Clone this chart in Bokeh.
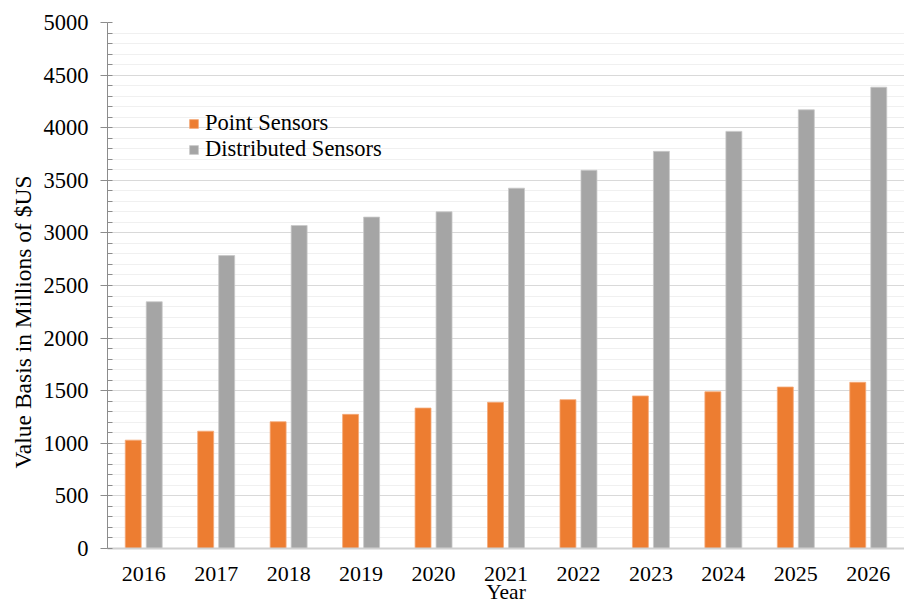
from bokeh.plotting import figure
from bokeh.models import ColumnDataSource, FactorRange, Range1d, SingleIntervalTicker, Legend, LegendItem, Title
from bokeh.transform import dodge
from bokeh.embed import file_html
from bokeh.resources import INLINE

years = ["2016", "2017", "2018", "2019", "2020", "2021", "2022", "2023", "2024", "2025", "2026"]
point_sensors = [1030, 1115, 1205, 1275, 1335, 1390, 1415, 1450, 1490, 1535, 1580]
distributed_sensors = [2345, 2785, 3070, 3150, 3200, 3425, 3595, 3775, 3965, 4170, 4385]

src = ColumnDataSource(data=dict(year=years, point=point_sensors, dist=distributed_sensors))

FONT = "'Liberation Serif', 'Times New Roman', serif"

p = figure(width=904, height=606, output_backend="svg", toolbar_location=None,
           x_range=FactorRange(*years, range_padding=0), y_range=Range1d(0, 5000),
           min_border_left=107, min_border_right=0, min_border_top=22, min_border_bottom=58)
p.outline_line_color = None

r1 = p.vbar(x=dodge("year", -0.145, range=p.x_range), top="point", width=0.22, source=src,
            fill_color="#ED7D31", line_color="#F4A97A", line_width=0.8)
r2 = p.vbar(x=dodge("year", 0.145, range=p.x_range), top="dist", width=0.22, source=src,
            fill_color="#A5A5A5", line_color="#C8C8C8", line_width=0.8)

# grid
p.xgrid.grid_line_color = None
p.ygrid.grid_line_color = "#D9D9D9"
p.ygrid.minor_grid_line_color = "#F0F0F0"
p.yaxis.ticker = SingleIntervalTicker(interval=500, num_minor_ticks=5)

# y axis
p.yaxis.axis_line_color = "#8C8C8C"
p.yaxis.major_tick_line_color = "#8C8C8C"
p.yaxis.minor_tick_line_color = "#8C8C8C"
p.yaxis.major_tick_out = 7
p.yaxis.major_tick_in = 0
p.yaxis.minor_tick_in = 5
p.yaxis.minor_tick_out = 0
p.yaxis.major_label_standoff = 12
p.yaxis.major_label_text_font = FONT
p.yaxis.major_label_text_font_size = "22.5px"
p.yaxis.major_label_text_color = "black"

# x axis
p.xaxis.axis_line_color = "#D0D0D0"
p.xaxis.axis_line_width = 2
p.xaxis.major_tick_line_color = None
p.xaxis.minor_tick_line_color = None
p.xaxis.major_label_standoff = 12
p.xaxis.major_label_text_font = FONT
p.xaxis.major_label_text_font_size = "22px"
p.xaxis.major_label_text_color = "black"
p.xaxis.axis_label = "Year"
p.xaxis.axis_label_standoff = -4
p.xaxis.axis_label_text_font = FONT
p.xaxis.axis_label_text_font_size = "21.5px"
p.xaxis.axis_label_text_font_style = "normal"
p.xaxis.axis_label_text_color = "black"

# y axis title as a left-side title so it can be offset along the axis
ylab = Title(text="Value Basis in Millions of $US", align="left", offset=80,
             text_font=FONT, text_font_size="23.5px", text_font_style="normal", text_color="black")
p.add_layout(ylab, "left")

legend = Legend(items=[LegendItem(label="Point Sensors", renderers=[r1]),
                       LegendItem(label="Distributed Sensors", renderers=[r2])],
                location=(81, 386), glyph_width=11, glyph_height=11, label_height=25,
                label_standoff=6, spacing=0, padding=0, margin=0,
                label_text_font=FONT, label_text_font_size="22.5px", label_text_color="black",
                border_line_color=None, background_fill_alpha=0)
p.add_layout(legend)

open("out.html", "w").write(file_html(p, INLINE))
